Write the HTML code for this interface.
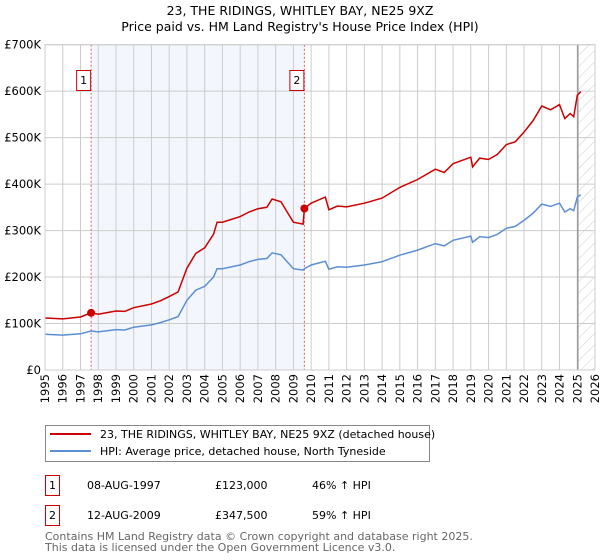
<!DOCTYPE html>
<html><head><meta charset="utf-8"><style>
body{margin:0;background:#fff;font-family:"Liberation Sans","DejaVu Sans",sans-serif;}
svg{display:block}
text{font-family:"DejaVu Sans","Liberation Sans",sans-serif;fill:#000}
</style></head><body>
<svg width="600" height="560" viewBox="0 0 600 560">
<defs><pattern id="hatch" width="8" height="8" patternUnits="userSpaceOnUse" patternTransform="rotate(45)"><line x1="0" y1="0" x2="0" y2="8" stroke="#ccc" stroke-width="1"/></pattern></defs>
<text x="300" y="15" text-anchor="middle" font-size="12.5">23, THE RIDINGS, WHITLEY BAY, NE25 9XZ</text>
<text x="300" y="31" text-anchor="middle" font-size="12.5">Price paid vs. HM Land Registry's House Price Index (HPI)</text>
<g id="plot"></g>
<g>
<rect x="45.5" y="425.5" width="384" height="36" fill="#fff" stroke="#888"/>
<line x1="50" y1="434" x2="91" y2="434" stroke="#cc0000" stroke-width="2"/>
<text x="100" y="438" font-size="11">23, THE RIDINGS, WHITLEY BAY, NE25 9XZ (detached house)</text>
<line x1="50" y1="451" x2="91" y2="451" stroke="#5b8fd4" stroke-width="2"/>
<text x="100" y="455" font-size="11">HPI: Average price, detached house, North Tyneside</text>
</g>
<g font-size="11">
<rect x="45.5" y="475.5" width="14" height="20" fill="#fff" stroke="#cc0000"/>
<text x="52.5" y="489" text-anchor="middle" font-size="11">1</text>
<text x="87" y="489" font-size="11">08-AUG-1997</text>
<text x="215" y="489" font-size="11">£123,000</text>
<text x="312" y="489" font-size="11">46% ↑ HPI</text>
<rect x="45.5" y="505.5" width="14" height="20" fill="#fff" stroke="#cc0000"/>
<text x="52.5" y="519" text-anchor="middle" font-size="11">2</text>
<text x="87" y="519" font-size="11">12-AUG-2009</text>
<text x="215" y="519" font-size="11">£347,500</text>
<text x="312" y="519" font-size="11">59% ↑ HPI</text>
</g>
<text x="45" y="540" font-size="11" style="fill:#666">Contains HM Land Registry data © Crown copyright and database right 2025.</text>
<text x="45" y="551" font-size="11" style="fill:#666">This data is licensed under the Open Government Licence v3.0.</text>
</svg>
<script>
const years=[1995,1996,1997,1997.6,1998,1999,1999.5,2000,2001,2001.5,2002,2002.5,2003,2003.5,2004,2004.5,2004.7,2005,2006,2006.5,2007,2007.5,2007.8,2008.3,2008.6,2009,2009.55,2009.62,2010,2010.8,2011,2011.5,2012,2013,2014,2015,2016,2017,2017.5,2018,2019,2019.1,2019.5,2020,2020.5,2021,2021.5,2022,2022.5,2023,2023.5,2024,2024.3,2024.6,2024.8,2025,2025.2];
const hpiValues=[77,75,78,84,82,87,86,92,97,102,108,115,150,172,180,200,218,218,226,233,238,240,252,248,235,218,215,218,226,234,217,222,221,226,233,247,258,272,267,279,288,275,287,285,292,305,309,322,337,357,352,359,340,347,343,372,377];
const priceValues=[112,110,114,123,120,127,126,134,142,149,158,168,219,251,263,292,318,318,330,340,347,350,368,362,343,318,314,347.5,359,372,345,353,351,359,370,393,410,432,425,444,458,437,456,453,464,485,491,512,536,568,560,571,541,552,545,591,599];
const yTicks=[0,100,200,300,400,500,600,700];
const yTickLabels=["£0","£100K","£200K","£300K","£400K","£500K","£600K","£700K"];
const xTicks=[1995,1996,1997,1998,1999,2000,2001,2002,2003,2004,2005,2006,2007,2008,2009,2010,2011,2012,2013,2014,2015,2016,2017,2018,2019,2020,2021,2022,2023,2024,2025,2026];
const sales=[{n:"1",year:1997.6,price:123},{n:"2",year:2009.62,price:347.5}];
const dataEnd=2025.03;

const X0=45,X1=595,Y0=370,Y1=44.7,xmin=1995,xmax=2026,ymax=700;
const sx=v=>X0+(v-xmin)/(xmax-xmin)*(X1-X0);
const sy=v=>Y0-v/ymax*(Y0-Y1);
const NS="http://www.w3.org/2000/svg";
const g=document.getElementById('plot');
function mk(t,a,p){const e=document.createElementNS(NS,t);for(const k in a)e.setAttribute(k,a[k]);(p||g).appendChild(e);return e;}

let r=mk('rect',{x:sx(sales[0].year),y:Y1,width:sx(sales[1].year)-sx(sales[0].year),height:Y0-Y1,fill:'#eef3fc',opacity:'0.7'});


let h=mk('rect',{x:sx(dataEnd),y:Y1,width:X1-sx(dataEnd),height:Y0-Y1,fill:'url(#hatch)'});


yTicks.forEach((v,i)=>{
 let l=mk('line',{x1:X0,x2:X1,y1:sy(v),y2:sy(v),stroke:'#ccc','stroke-width':1});
 
 
 let t=mk('text',{x:X0-4,y:sy(v)+4,'text-anchor':'end','font-size':'11.5'});
 t.textContent=yTickLabels[i];
 
 
});
xTicks.forEach(v=>{
 let l=mk('line',{x1:sx(v),x2:sx(v),y1:Y1,y2:Y0,stroke:'#ccc','stroke-width':1});
 
 
 let t=mk('text',{x:0,y:0,'text-anchor':'end','font-size':'11.5',transform:`translate(${sx(v)+4},374) rotate(-90)`});
 t.textContent=v;
 
 
});
let dl=mk('line',{x1:sx(dataEnd),x2:sx(dataEnd),y1:Y1,y2:Y0,stroke:'#999','stroke-width':1.5});


sales.forEach(s=>{
 let l=mk('line',{x1:sx(s.year),x2:sx(s.year),y1:Y1,y2:Y0,stroke:'#e06060','stroke-width':1,'stroke-dasharray':'2,2'});
 
 
 let b=mk('rect',{x:sx(s.year)-14.5,y:70.5,width:14,height:20,fill:'#fff',stroke:'#cc0000'});
 
 
 let t=mk('text',{x:sx(s.year)-7.5,y:84,'text-anchor':'middle','font-size':'11'});
 t.textContent=s.n;
 
 
});
const pts=v=>years.map((y,i)=>sx(y).toFixed(1)+','+sy(v[i]).toFixed(1)).join(' ');
let hp=mk('polyline',{points:pts(hpiValues),fill:'none',stroke:'#5b8fd4','stroke-width':1.5});


let pp=mk('polyline',{points:pts(priceValues),fill:'none',stroke:'#cc0000','stroke-width':1.5});


sales.forEach(s=>{
 let c=mk('circle',{cx:sx(s.year),cy:sy(s.price),r:4,fill:'#cc0000'});
 
 
});
let fr=mk('rect',{x:X0,y:Y1,width:X1-X0,height:Y0-Y1,fill:'none',stroke:'#ccc'});


</script>
</body></html>
